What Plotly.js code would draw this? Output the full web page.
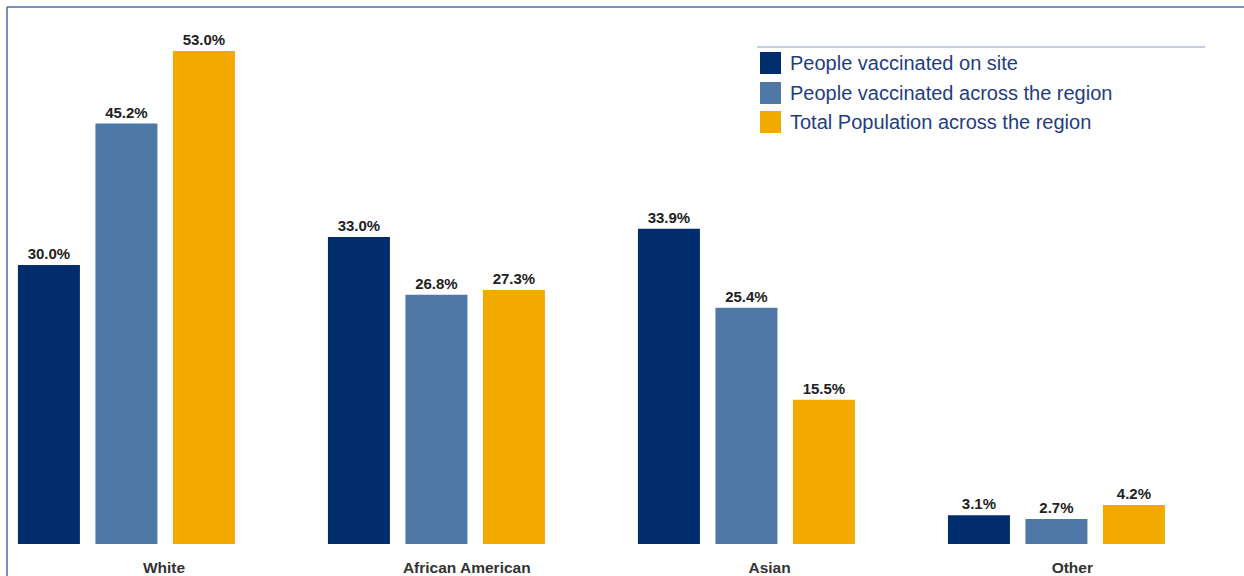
<!DOCTYPE html>
<html>
<head>
<meta charset="utf-8">
<script src="https://cdn.plot.ly/plotly-3.0.1.min.js"></script>
<style>
html,body{margin:0;padding:0;background:#fff;}
#chart{width:1244px;height:576px;}
</style>
</head>
<body>
<div id="chart"></div>
<script>
var categories = ["White", "African American", "Asian", "Other"];
var seriesNames = ["People vaccinated on site", "People vaccinated across the region", "Total Population across the region"];
var onSite = [30.0, 33.0, 33.9, 3.1];
var acrossRegion = [45.2, 26.8, 25.4, 2.7];
var totalPopulation = [53.0, 27.3, 15.5, 4.2];
var seriesColors = ["#012d6d", "#4f78a6", "#f2aa00"];
var seriesValues = [onSite, acrossRegion, totalPopulation];

var W = 1244, H = 576, ML = 8, MR = 0, MT = 8, MB = 32;
var PW = W - ML - MR, PH = H - MT - MB;
function px(x){ return (x - ML) / PW; }
function py(y){ return (H - MB - y) / PH; }

var traces = seriesValues.map(function(vals, i){
  return {
    type: "bar",
    name: seriesNames[i],
    x: categories,
    y: vals,
    text: vals.map(function(v){ return v.toFixed(1) + "%"; }),
    textposition: "outside",
    textfont: {family: "Liberation Sans, Arial, sans-serif", size: 15, color: "#222222", weight: "bold"},
    cliponaxis: false,
    marker: {color: seriesColors[i], line: {width: 0}},
    hoverinfo: "skip",
    showlegend: false
  };
});
// invisible carrier trace for the category label axis
traces.push({
  type: "scatter", mode: "markers",
  x: categories.map(function(c, i){ return i; }),
  y: categories.map(function(){ return 0; }),
  xaxis: "x2", yaxis: "y",
  marker: {opacity: 0, size: 1},
  hoverinfo: "skip", showlegend: false
});

var shapes = [
  {type: "line", xref: "paper", yref: "paper", x0: px(7), x1: px(1244), y0: py(7), y1: py(7), line: {color: "#4a6aa6", width: 1.5}},
  {type: "line", xref: "paper", yref: "paper", x0: px(7), x1: px(7), y0: py(7), y1: py(576), line: {color: "#4a6aa6", width: 1.5}},
  {type: "line", xref: "paper", yref: "paper", x0: px(757), x1: px(1205), y0: py(47), y1: py(47), line: {color: "#8a9cc4", width: 1}}
];
var annotations = [];
var legendRows = [63, 93, 122];
seriesNames.forEach(function(name, i){
  var cy = legendRows[i];
  shapes.push({type: "rect", xref: "paper", yref: "paper", x0: px(760), x1: px(781), y0: py(cy - 11), y1: py(cy + 11), fillcolor: seriesColors[i], line: {width: 0}});
  annotations.push({xref: "paper", yref: "paper", x: px(788), y: py(cy), xanchor: "left", yanchor: "middle", showarrow: false, text: name, font: {family: "Liberation Sans, Arial, sans-serif", size: 20, color: "#1f3d7e"}});
});

var layout = {
  width: W, height: H,
  margin: {l: ML, r: MR, t: MT, b: MB, pad: 0},
  paper_bgcolor: "#ffffff",
  plot_bgcolor: "#ffffff",
  barmode: "group",
  bargap: 0.25,
  bargroupgap: 0.2,
  showlegend: false,
  xaxis: {
    type: "category",
    range: [-0.382, 3.605],
    showgrid: false, zeroline: false, showline: false,
    ticks: "", showticklabels: false,
    fixedrange: true
  },
  xaxis2: {
    overlaying: "x",
    side: "bottom",
    range: [-0.5152, 3.567],
    tickmode: "array",
    tickvals: categories.map(function(c, i){ return i; }),
    ticktext: categories,
    showgrid: false, zeroline: false, showline: false,
    ticks: "",
    ticklabelstandoff: 12,
    tickfont: {family: "Liberation Sans, Arial, sans-serif", size: 15.5, color: "#333333", weight: "bold"},
    fixedrange: true
  },
  yaxis: {
    range: [0, 57.63],
    showgrid: false, zeroline: false, showline: false,
    showticklabels: false, ticks: "",
    fixedrange: true
  },
  shapes: shapes,
  annotations: annotations
};

Plotly.newPlot("chart", traces, layout, {displayModeBar: false, staticPlot: true});
</script>
</body>
</html>
